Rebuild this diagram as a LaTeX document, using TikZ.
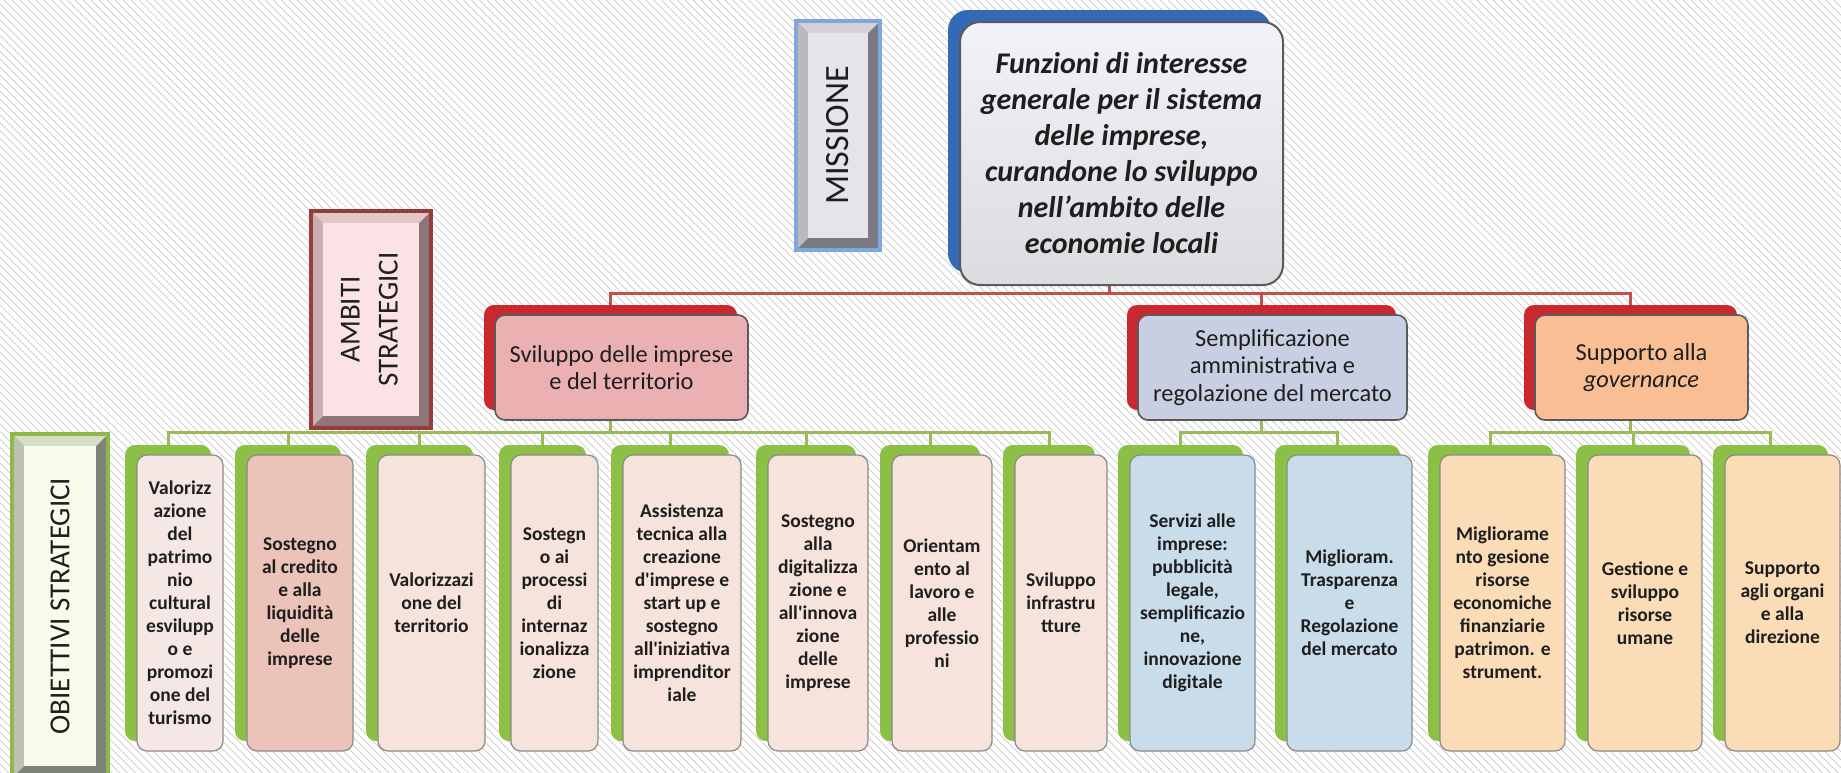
\documentclass[tikz,border=0pt]{standalone}
\usepackage{fontspec}
\setmainfont{Carlito}
\usetikzlibrary{patterns.meta}

\definecolor{hatch}{HTML}{C8C8C8}
\definecolor{ink}{HTML}{1E1E1E}
\definecolor{missborder}{HTML}{7FA7DA}
\definecolor{missface}{HTML}{E4E4EA}
\definecolor{misslight}{HTML}{D2D2D8}
\definecolor{missdark}{HTML}{7A7A82}
\definecolor{ambborder}{HTML}{9A3B3B}
\definecolor{ambface}{HTML}{FBE3E5}
\definecolor{amblight}{HTML}{E3C8CA}
\definecolor{ambdark}{HTML}{8E7678}
\definecolor{obborder}{HTML}{8DB84A}
\definecolor{obface}{HTML}{F7FBEA}
\definecolor{oblight}{HTML}{D6DCC6}
\definecolor{obdark}{HTML}{7E8478}
\definecolor{mainblue}{HTML}{3469B5}
\definecolor{mainface}{HTML}{F1F3F8}
\definecolor{framegray}{HTML}{5A5A5A}
\definecolor{tilered}{HTML}{C8282E}
\definecolor{tilegreen}{HTML}{8CBF45}
\definecolor{linered}{HTML}{C0504D}
\definecolor{linegreen}{HTML}{9BBB59}
\definecolor{svilpink}{HTML}{EBB0B2}
\definecolor{semblue}{HTML}{C9CFE2}
\definecolor{supporange}{HTML}{F9BE94}
\definecolor{objframe}{HTML}{8A8A8A}
\definecolor{objrose}{HTML}{F5E7E3}
\definecolor{objsalmon}{HTML}{ECC3B9}
\definecolor{objpeach}{HTML}{F6E3DB}
\definecolor{objsky}{HTML}{C9DCEA}
\definecolor{objsand}{HTML}{FADCB7}

\tikzset{
    titlebox/.style n args={4}{draw=#1, line width=2pt, fill=#4, inner sep=0pt, text=ink,
        path picture={
            \fill[#3] (path picture bounding box.north west) -- (path picture bounding box.north east)
                -- ([shift={(-6pt,-6pt)}]path picture bounding box.north east)
                -- ([shift={(6pt,-6pt)}]path picture bounding box.north west) -- cycle;
            \fill[#3!88!black] (path picture bounding box.north west)
                -- ([shift={(6pt,-6pt)}]path picture bounding box.north west)
                -- ([shift={(6pt,6pt)}]path picture bounding box.south west)
                -- (path picture bounding box.south west) -- cycle;
            \fill[#2] ([shift={(6pt,-6pt)}]path picture bounding box.north west)
                rectangle ([shift={(-6pt,6pt)}]path picture bounding box.south east);
        }},
    bluetile/.style={fill=mainblue, rounded corners=10pt, inner sep=0pt},
    redtile/.style={fill=tilered, rounded corners=5pt, inner sep=0pt, minimum height=52.5pt},
    greentile/.style={fill=tilegreen, rounded corners=5pt, inner sep=0pt, minimum height=148pt},
    mainbox/.style={draw=framegray, line width=1pt, rounded corners=10pt, top color=mainface, bottom color=mainface!80!gray,
        align=center, inner sep=0pt, text=ink, font=\fontsize{15}{18}\selectfont\bfseries\itshape},
    ambito/.style={draw=framegray, line width=0.8pt, rounded corners=5pt, align=center, inner sep=0pt,
        minimum height=52.5pt, text=ink, font=\fontsize{12.2}{13.8}\selectfont},
    objtile/.style={draw=objframe, line width=0.6pt, rounded corners=5pt, align=center, inner sep=0pt,
        minimum height=148pt, text=ink, font=\fontsize{9.75}{11.5}\selectfont\bfseries},
    redline/.style={draw=linered, line width=1.5pt},
    greenline/.style={draw=linegreen, line width=1.5pt}
}

\begin{document}
\begin{tikzpicture}[x=0.5pt, y=-0.5pt]
    \useasboundingbox (0,0) rectangle (1841,772);
    \fill[white] (0,0) rectangle (1841,772);
    \fill[pattern={Lines[angle=-45,distance=2.8pt,line width=0.35pt]}, pattern color=hatch] (0,0) rectangle (1841,772);

    % titoli dei livelli
    \node[titlebox={missborder}{missface}{misslight}{missdark}, minimum width=42pt, minimum height=114.5pt] (missione) at (838,135.5)
        {\rotatebox{90}{\fontsize{17}{20}\selectfont MISSIONE}};
    \node[titlebox={ambborder}{ambface}{amblight}{ambdark}, minimum width=60pt, minimum height=108.5pt] (ambiti) at (371,319.5)
        {\rotatebox{90}{\fontsize{14.5}{19}\selectfont\begin{tabular}{@{}c@{}}AMBITI\\STRATEGICI\end{tabular}}};
    \node[titlebox={obborder}{obface}{oblight}{obdark}, minimum width=48pt, minimum height=172pt] (obiettivi) at (60,606)
        {\rotatebox{90}{\fontsize{14.5}{17}\selectfont OBIETTIVI STRATEGICI}};

    % missione
    \node[bluetile, minimum width=161.5pt, minimum height=131.5pt] (mainback) at (1109.5,141.5) {};
    \node[mainbox, minimum width=161.5pt, minimum height=131.5pt] (main) at (1121.5,153.5)
        {Funzioni di interesse\\generale per il sistema\\delle imprese,\\curandone lo sviluppo\\nell’ambito delle\\economie locali};

    % ambiti strategici
    \node[redtile, minimum width=126.5pt] (svilback) at (610.5,357.5) {};
    \node[ambito, fill=svilpink, minimum width=126.5pt] (svil) at (621.5,367.5) {Sviluppo delle imprese\\e del territorio};
    \node[redtile, minimum width=134.5pt] (semback) at (1261.5,357.5) {};
    \node[ambito, fill=semblue, minimum width=134.5pt] (sem) at (1272.5,367.5) {Semplificazione\\amministrativa e\\regolazione del mercato};
    \node[redtile, minimum width=106.5pt] (suppback) at (1630.5,357.5) {};
    \node[ambito, fill=supporange, minimum width=106.5pt] (supp) at (1641.5,367.5) {Supporto alla\\\textit{governance}};

    % obiettivi strategici
    \node[greentile, minimum width=43pt] (objb1) at (168,593) {};
    \node[objtile, fill=objrose, minimum width=43pt] (obj1) at (180,603)
        {Valorizz\\azione\\del\\patrimo\\nio\\cultural\\esvilupp\\o e\\promozi\\one del\\turismo};
    \node[greentile, minimum width=53pt] (objb2) at (288,593) {};
    \node[objtile, fill=objsalmon, minimum width=53pt] (obj2) at (300,603)
        {Sostegno\\al credito\\e alla\\liquidità\\delle\\imprese};
    \node[greentile, minimum width=53.5pt] (objb3) at (419.5,593) {};
    \node[objtile, fill=objpeach, minimum width=53.5pt] (obj3) at (431.5,603)
        {Valorizzazi\\one del\\territorio};
    \node[greentile, minimum width=43.5pt] (objb4) at (542.5,593) {};
    \node[objtile, fill=objpeach, minimum width=43.5pt] (obj4) at (554.5,603)
        {Sostegn\\o ai\\processi\\di\\internaz\\ionalizza\\zione};
    \node[greentile, minimum width=59pt] (objb5) at (670,593) {};
    \node[objtile, fill=objpeach, minimum width=59pt] (obj5) at (682,603)
        {Assistenza\\tecnica alla\\creazione\\d\textquotesingle imprese e\\start up e\\sostegno\\all\textquotesingle iniziativa\\imprenditor\\iale};
    \node[greentile, minimum width=50pt] (objb6) at (806,593) {};
    \node[objtile, fill=objpeach, minimum width=50pt] (obj6) at (818,603)
        {Sostegno\\alla\\digitalizza\\zione e\\all\textquotesingle innova\\zione\\delle\\imprese};
    \node[greentile, minimum width=50pt] (objb7) at (930,593) {};
    \node[objtile, fill=objpeach, minimum width=50pt] (obj7) at (942,603)
        {Orientam\\ento al\\lavoro e\\alle\\professio\\ni};
    \node[greentile, minimum width=46pt] (objb8) at (1049,593) {};
    \node[objtile, fill=objpeach, minimum width=46pt] (obj8) at (1061,603)
        {Sviluppo\\infrastru\\tture};
    \node[greentile, minimum width=62.5pt] (objb9) at (1180.5,593) {};
    \node[objtile, fill=objsky, minimum width=62.5pt] (obj9) at (1192.5,603)
        {Servizi alle\\imprese:\\pubblicità\\legale,\\semplificazio\\ne,\\innovazione\\digitale};
    \node[greentile, minimum width=62.5pt] (objb10) at (1337.5,593) {};
    \node[objtile, fill=objsky, minimum width=62.5pt] (obj10) at (1349.5,603)
        {Miglioram.\\Trasparenza\\e\\Regolazione\\del mercato};
    \node[greentile, minimum width=62.5pt] (objb11) at (1490.5,593) {};
    \node[objtile, fill=objsand, minimum width=62.5pt] (obj11) at (1502.5,603)
        {Migliorame\\nto gesione\\risorse\\economiche\\finanziarie\\patrimon. e\\strument.};
    \node[greentile, minimum width=57pt] (objb12) at (1633,593) {};
    \node[objtile, fill=objsand, minimum width=57pt] (obj12) at (1645,603)
        {Gestione e\\sviluppo\\risorse\\umane};
    \node[greentile, minimum width=57.5pt] (objb13) at (1770.5,593) {};
    \node[objtile, fill=objsand, minimum width=57.5pt] (obj13) at (1782.5,603)
        {Supporto\\agli organi\\e alla\\direzione};

    % collegamenti
    \coordinate (redbus) at (0,293);
    \coordinate (greenbus) at (0,432);
    \draw[redline] (mainback |- main.south) -- (mainback |- redbus);
    \draw[redline] (svilback.north) |- (suppback.north |- redbus) -- (suppback.north);
    \draw[redline] (semback.north) -- (semback.north |- redbus);

    \draw[greenline] (svilback |- svil.south) -- (svilback |- greenbus);
    \draw[greenline] (objb1.north) |- (objb8.north |- greenbus) -- (objb8.north);
    \foreach \i in {2,...,7}
        \draw[greenline] (objb\i.north) -- (objb\i.north |- greenbus);

    \draw[greenline] (semback |- sem.south) -- (semback |- greenbus);
    \draw[greenline] (objb9.north) |- (objb10.north |- greenbus) -- (objb10.north);

    \draw[greenline] (suppback |- supp.south) -- (suppback |- greenbus);
    \draw[greenline] (objb11.north) |- (objb13.north |- greenbus) -- (objb13.north);
    \draw[greenline] (objb12.north) -- (objb12.north |- greenbus);
\end{tikzpicture}
\end{document}
